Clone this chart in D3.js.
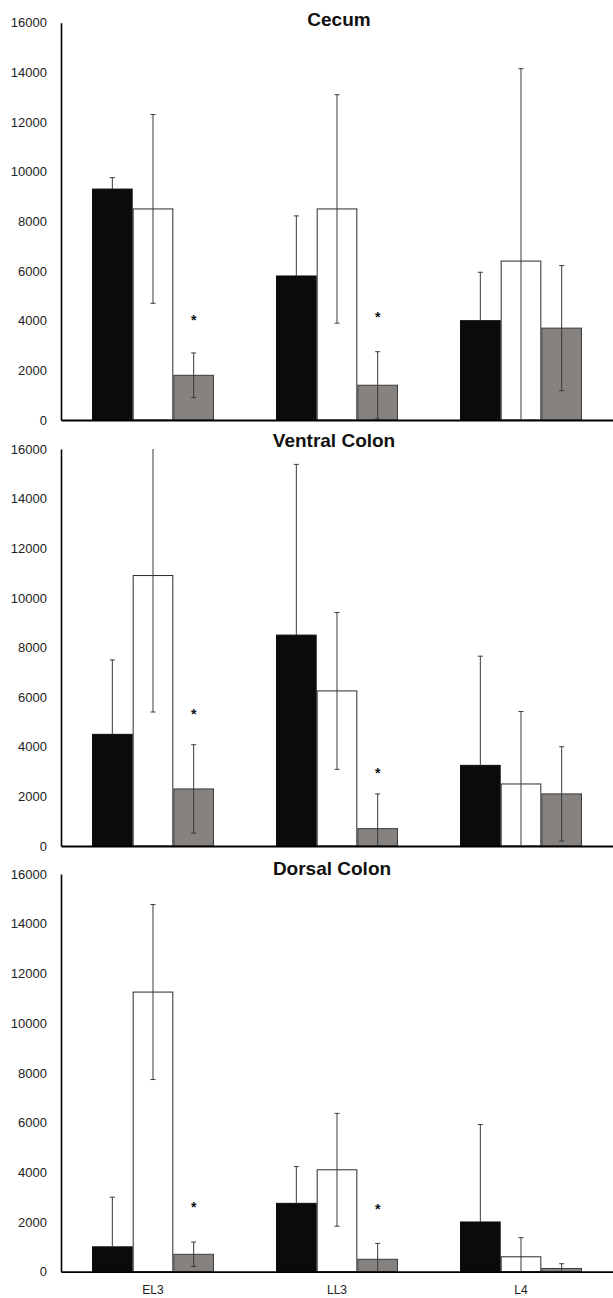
<!DOCTYPE html>
<html>
<head>
<meta charset="utf-8">
<script src="https://cdn.jsdelivr.net/npm/d3@7"></script>
<style>
  html, body { margin: 0; padding: 0; background: #fff; }
  svg { display: block; }
</style>
</head>
<body>
<script>
// ---------- data ----------
const categories = ["EL3", "LL3", "L4"];
const panelTitles = ["Cecum", "Ventral Colon", "Dorsal Colon"];
const yTicks = [0, 2000, 4000, 6000, 8000, 10000, 12000, 14000, 16000];
const yMax = 16000;

// Cecum
const cecumBlack = [9300, 5800, 4000];
const cecumBlackErr = [460, 2420, 1950];
const cecumWhite = [8500, 8500, 6400];
const cecumWhiteErr = [3800, 4600, 7750];
const cecumGray = [1800, 1400, 3700];
const cecumGrayErr = [900, 1350, 2520];
const cecumStars = [4160, 4270, null];

// Ventral Colon
const ventralBlack = [4500, 8500, 3250];
const ventralBlackErr = [3000, 6880, 4400];
const ventralWhite = [10900, 6250, 2500];
const ventralWhiteErr = [5500, 3160, 2920];
const ventralGray = [2300, 700, 2100];
const ventralGrayErr = [1780, 1400, 1900];
const ventralStars = [5440, 3060, null];

// Dorsal Colon
const dorsalBlack = [1000, 2750, 2000];
const dorsalBlackErr = [2000, 1480, 3920];
const dorsalWhite = [11250, 4100, 600];
const dorsalWhiteErr = [3520, 2270, 770];
const dorsalGray = [700, 500, 130];
const dorsalGrayErr = [490, 640, 190];
const dorsalStars = [2720, 2640, null];

// ---------- layout ----------
const W = 613, H = 1298;
const left = 61, right = 613;
const layout = [
  { top: 22.7, bottom: 420,  titleX: 339, titleY: 26 },
  { top: 449,  bottom: 846,  titleX: 334, titleY: 446.7 },
  { top: 874,  bottom: 1271.7, titleX: 332, titleY: 875 }
];
const panels = [
  { series: [[cecumBlack, cecumBlackErr], [cecumWhite, cecumWhiteErr], [cecumGray, cecumGrayErr]], stars: cecumStars },
  { series: [[ventralBlack, ventralBlackErr], [ventralWhite, ventralWhiteErr], [ventralGray, ventralGrayErr]], stars: ventralStars },
  { series: [[dorsalBlack, dorsalBlackErr], [dorsalWhite, dorsalWhiteErr], [dorsalGray, dorsalGrayErr]], stars: dorsalStars }
];
const seriesStyle = [
  { fill: "#0b0b09", stroke: "#0b0b09" },
  { fill: "#ffffff", stroke: "#2a2a2a" },
  { fill: "#86827f", stroke: "#3c3c3c" }
];
const errColor = "#3a3a3a";

const svg = d3.select("body").append("svg")
  .attr("width", W).attr("height", H);

const x = d3.scaleBand()
  .domain(categories)
  .range([left, right])
  .paddingInner(0.337)
  .paddingOuter(0.1685);

const xs = d3.scaleBand()
  .domain([0, 1, 2])
  .range([0, x.bandwidth()])
  .padding(0);

panels.forEach((p, pi) => {
  const L = layout[pi];
  const g = svg.append("g");
  const y = d3.scaleLinear().domain([0, yMax]).range([L.bottom, L.top]);

  // y axis
  const yAxis = d3.axisLeft(y).tickValues(yTicks).tickSize(0).tickPadding(14)
    .tickSizeOuter(0).tickFormat(d3.format("d"));
  const ya = g.append("g").attr("transform", `translate(${left},0)`).call(yAxis);
  ya.select(".domain").attr("stroke", "#000").attr("stroke-width", 1.6);
  ya.selectAll("text")
    .attr("font-family", "Liberation Sans, Arial, sans-serif")
    .attr("font-size", 13).attr("fill", "#222");

  // bars
  p.series.forEach((s, si) => {
    const [vals, errs] = s;
    const st = seriesStyle[si];
    g.append("g").selectAll("rect").data(categories).join("rect")
      .attr("x", (c) => x(c) + xs(si) + 0.5)
      .attr("y", (c, i) => y(vals[i]))
      .attr("width", xs.bandwidth() - 1)
      .attr("height", (c, i) => y(0) - y(vals[i]))
      .attr("fill", st.fill)
      .attr("stroke", st.stroke)
      .attr("stroke-width", 1);
  });

  // x axis
  const xAxis = d3.axisBottom(x).tickSize(0).tickSizeOuter(0).tickPadding(14);
  const xa = g.append("g").attr("transform", `translate(0,${L.bottom})`).call(xAxis);
  xa.select(".domain").attr("stroke", "#000").attr("stroke-width", 1.8);
  xa.selectAll("text")
    .attr("font-family", "Liberation Sans, Arial, sans-serif")
    .attr("font-size", 12).attr("fill", "#222")
    .style("display", pi === panels.length - 1 ? null : "none");

  // error bars
  p.series.forEach((s, si) => {
    const [vals, errs] = s;
    const eg = g.append("g");
    categories.forEach((c, i) => {
      const cx = x(c) + xs(si) + xs.bandwidth() / 2;
      const hi = Math.min(vals[i] + errs[i], yMax);
      const loRaw = vals[i] - errs[i];
      const lo = si === 0 ? vals[i] : Math.max(loRaw, 0);
      eg.append("line")
        .attr("x1", cx).attr("x2", cx)
        .attr("y1", y(hi)).attr("y2", y(lo))
        .attr("stroke", errColor).attr("stroke-width", 1);
      if (vals[i] + errs[i] <= yMax) {
        eg.append("line")
          .attr("x1", cx - 2.5).attr("x2", cx + 2.5)
          .attr("y1", y(hi)).attr("y2", y(hi))
          .attr("stroke", errColor).attr("stroke-width", 1);
      }
      if (si !== 0 && loRaw > 0) {
        eg.append("line")
          .attr("x1", cx - 2.5).attr("x2", cx + 2.5)
          .attr("y1", y(loRaw)).attr("y2", y(loRaw))
          .attr("stroke", errColor).attr("stroke-width", 1);
      }
    });
  });

  // significance stars (on gray series)
  categories.forEach((c, i) => {
    if (p.stars[i] == null) return;
    const cx = x(c) + xs(2) + xs.bandwidth() / 2;
    g.append("text")
      .attr("x", cx).attr("y", y(p.stars[i]) + 8)
      .attr("text-anchor", "middle")
      .attr("font-family", "Liberation Sans, Arial, sans-serif")
      .attr("font-weight", "bold")
      .attr("font-size", 14).attr("fill", "#111")
      .text("*");
  });

  // title
  g.append("text")
    .attr("x", L.titleX).attr("y", L.titleY)
    .attr("text-anchor", "middle")
    .attr("font-family", "Liberation Sans, Arial, sans-serif")
    .attr("font-weight", "bold")
    .attr("font-size", 19).attr("fill", "#111")
    .text(panelTitles[pi]);
});
</script>
</body>
</html>
